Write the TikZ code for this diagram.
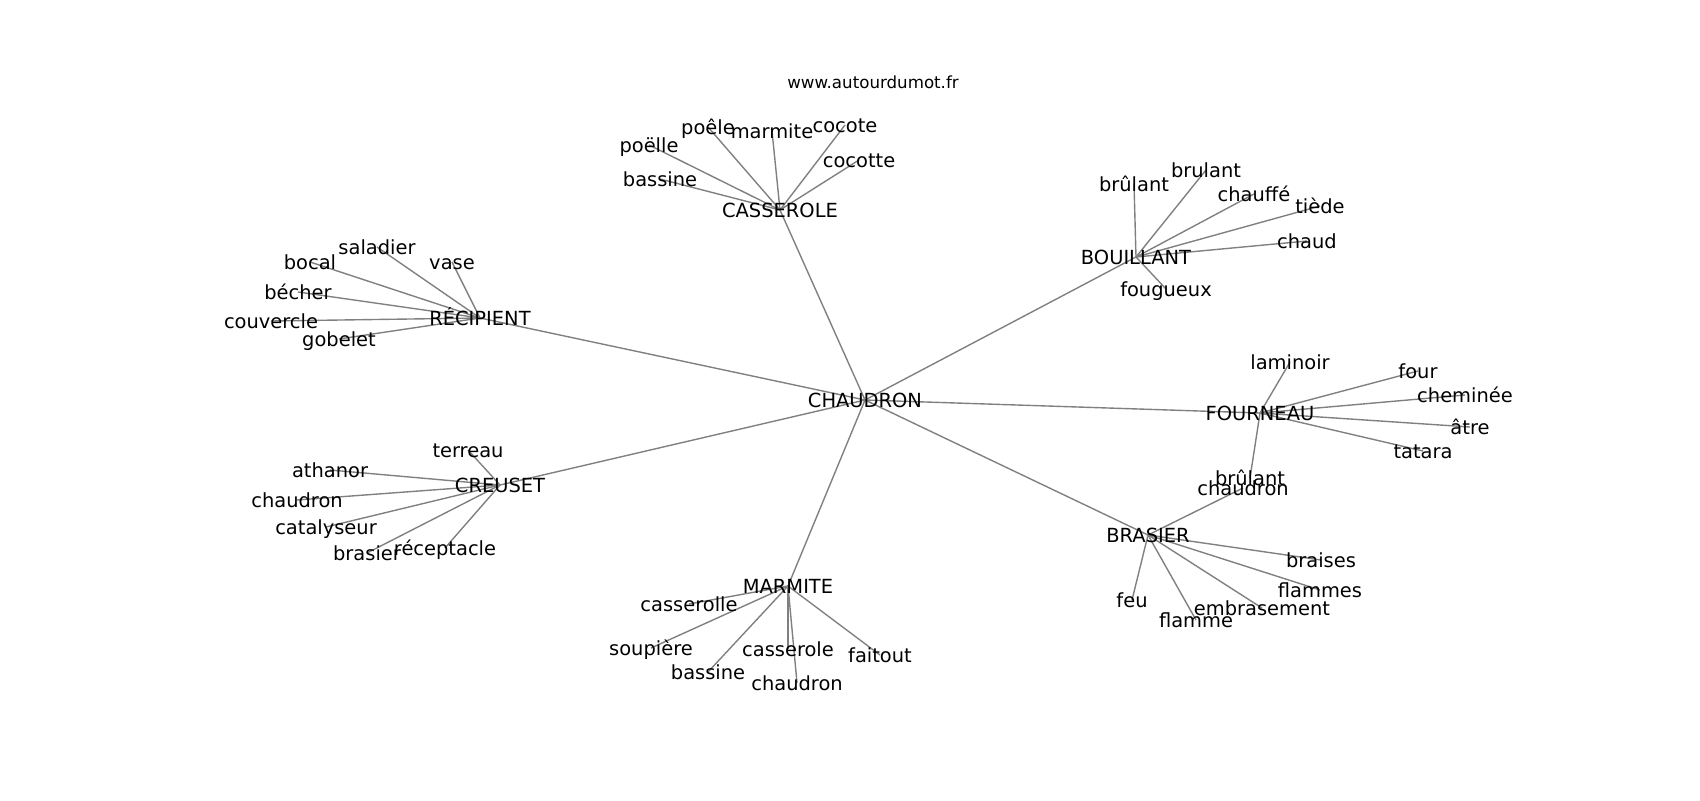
\documentclass[tikz,border=0pt]{standalone}
\usepackage{fontspec}
\setmainfont{DejaVu Sans}
\begin{document}
\begin{tikzpicture}[x=0.72pt,y=-0.72pt,
  lbl/.style={inner sep=0pt,anchor=center,yshift=-1.4pt,text height=10.64pt,text depth=2.91pt,font=\fontsize{14}{16}\selectfont},
  ttl/.style={inner sep=0pt,anchor=center,yshift=-0.8pt,text height=9.12pt,text depth=2.5pt,font=\fontsize{12}{14}\selectfont},
  edge/.style={draw=black!50,line width=1pt}]
\useasboundingbox[fill=white] (0,0) rectangle (1700,800);
% positions
\coordinate (chaudron) at (865,400);
\coordinate (casserole) at (780,210);
\coordinate (recipient) at (480,318);
\coordinate (bouillant) at (1136,257);
\coordinate (fourneau) at (1260,413);
\coordinate (creuset) at (500,485);
\coordinate (marmite) at (788,586);
\coordinate (brasier) at (1148,535);
% casserole
\coordinate (c1) at (708,127);
\coordinate (c2) at (772,131);
\coordinate (c3) at (845,125);
\coordinate (c4) at (649,145);
\coordinate (c5) at (859,160);
\coordinate (c6) at (660,179);
% bouillant
\coordinate (b1) at (1134,184);
\coordinate (b2) at (1206,170);
\coordinate (b3) at (1254,194);
\coordinate (b4) at (1320,206);
\coordinate (b5) at (1307,241);
\coordinate (b6) at (1166,289);
% recipient
\coordinate (r1) at (377,247);
\coordinate (r2) at (310,262);
\coordinate (r3) at (452,262);
\coordinate (r4) at (298,292);
\coordinate (r5) at (271,321);
\coordinate (r6) at (339,339);
% fourneau
\coordinate (f1) at (1290,362);
\coordinate (f2) at (1418,371);
\coordinate (f3) at (1465,395);
\coordinate (f4) at (1470,427);
\coordinate (f5) at (1423,451);
\coordinate (f6) at (1250,478);
% brasier
\coordinate (s1) at (1243,488);
\coordinate (s2) at (1321,560);
\coordinate (s3) at (1320,590);
\coordinate (s4) at (1262,608);
\coordinate (s5) at (1196,620);
\coordinate (s6) at (1132,600);
% creuset
\coordinate (k1) at (468,450);
\coordinate (k2) at (330,470);
\coordinate (k3) at (297,500);
\coordinate (k4) at (326,527);
\coordinate (k5) at (367,553);
\coordinate (k6) at (445,548);
% marmite
\coordinate (m1) at (689,604);
\coordinate (m2) at (651,648);
\coordinate (m3) at (708,672);
\coordinate (m4) at (788,649);
\coordinate (m5) at (797,683);
\coordinate (m6) at (880,655);
% edges
\foreach \h in {casserole,recipient,bouillant,fourneau,creuset,marmite,brasier}
  \draw[edge] (chaudron) -- (\h);
\foreach \i in {1,...,6}{
  \draw[edge] (casserole) -- (c\i);
  \draw[edge] (bouillant) -- (b\i);
  \draw[edge] (recipient) -- (r\i);
  \draw[edge] (fourneau) -- (f\i);
  \draw[edge] (brasier) -- (s\i);
  \draw[edge] (creuset) -- (k\i);
  \draw[edge] (marmite) -- (m\i);
}
% labels
\node[ttl] (title) at (873,83) {www.autourdumot.fr};
\node[lbl] (nchaudron) at (chaudron) {CHAUDRON};
\node[lbl] (ncasserole) at (casserole) {CASSEROLE};
\node[lbl] (nrecipient) at (recipient) {RÉCIPIENT};
\node[lbl] (nbouillant) at (bouillant) {BOUILLANT};
\node[lbl] (nfourneau) at (fourneau) {FOURNEAU};
\node[lbl] (ncreuset) at (creuset) {CREUSET};
\node[lbl] (nmarmite) at (marmite) {MARMITE};
\node[lbl] (nbrasier) at (brasier) {BRASIER};
\node[lbl] (nc1) at (c1) {poêle};
\node[lbl] (nc2) at (c2) {marmite};
\node[lbl] (nc3) at (c3) {cocote};
\node[lbl] (nc4) at (c4) {poëlle};
\node[lbl] (nc5) at (c5) {cocotte};
\node[lbl] (nc6) at (c6) {bassine};
\node[lbl] (nb1) at (b1) {brûlant};
\node[lbl] (nb2) at (b2) {brulant};
\node[lbl] (nb3) at (b3) {chauffé};
\node[lbl] (nb4) at (b4) {tiède};
\node[lbl] (nb5) at (b5) {chaud};
\node[lbl] (nb6) at (b6) {fougueux};
\node[lbl] (nr1) at (r1) {saladier};
\node[lbl] (nr2) at (r2) {bocal};
\node[lbl] (nr3) at (r3) {vase};
\node[lbl] (nr4) at (r4) {bécher};
\node[lbl] (nr5) at (r5) {couvercle};
\node[lbl] (nr6) at (r6) {gobelet};
\node[lbl] (nf1) at (f1) {laminoir};
\node[lbl] (nf2) at (f2) {four};
\node[lbl] (nf3) at (f3) {cheminée};
\node[lbl] (nf4) at (f4) {âtre};
\node[lbl] (nf5) at (f5) {tatara};
\node[lbl] (nf6) at (f6) {brûlant};
\node[lbl] (ns1) at (s1) {chaudron};
\node[lbl] (ns2) at (s2) {braises};
\node[lbl] (ns3) at (s3) {flammes};
\node[lbl] (ns4) at (s4) {embrasement};
\node[lbl] (ns5) at (s5) {flamme};
\node[lbl] (ns6) at (s6) {feu};
\node[lbl] (nk1) at (k1) {terreau};
\node[lbl] (nk2) at (k2) {athanor};
\node[lbl] (nk3) at (k3) {chaudron};
\node[lbl] (nk4) at (k4) {catalyseur};
\node[lbl] (nk5) at (k5) {brasier};
\node[lbl] (nk6) at (k6) {réceptacle};
\node[lbl] (nm1) at (m1) {casserolle};
\node[lbl] (nm2) at (m2) {soupière};
\node[lbl] (nm3) at (m3) {bassine};
\node[lbl] (nm4) at (m4) {casserole};
\node[lbl] (nm5) at (m5) {chaudron};
\node[lbl] (nm6) at (m6) {faitout};
\end{tikzpicture}
\end{document}
